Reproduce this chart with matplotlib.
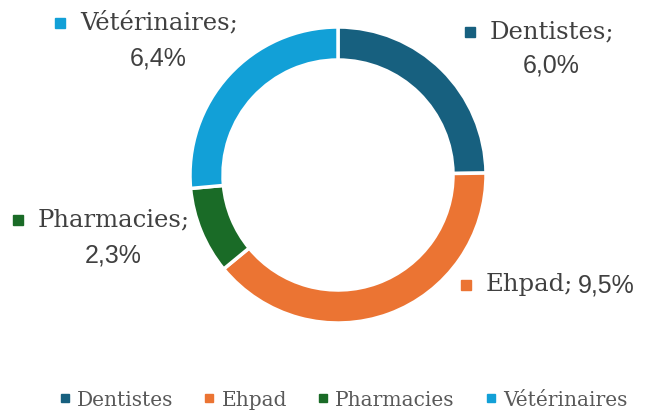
import matplotlib
matplotlib.use("Agg")
import matplotlib.pyplot as plt
from matplotlib.lines import Line2D

categories = ["Dentistes", "Ehpad", "Pharmacies", "Vétérinaires"]
values = [6.0, 9.5, 2.3, 6.4]
value_labels = ["6,0%", "9,5%", "2,3%", "6,4%"]
colors = ["#17607F", "#EB7433", "#1A6B27", "#12A0D7"]

W, H = 647, 412
SERIF = "DejaVu Serif"
SANS = "Liberation Sans"
TEXT_COLOR = "#404040"

fig = plt.figure(figsize=(W / 100, H / 100), dpi=100)
ax = fig.add_axes([0, 0, 1, 1])

# donut, starting at 12 o'clock, clockwise
ax.pie(values, colors=colors, startangle=90, counterclock=False,
       center=(338, H - 175), radius=148,
       wedgeprops=dict(width=33, edgecolor="white", linewidth=2.5))
ax.set_xlim(0, W)
ax.set_ylim(0, H)
ax.set_aspect("equal")
ax.axis("off")

# data label layout: marker x, first line y, second line centre (None = one line)
label_pos = {
    "Dentistes": (470, 32, (551, 65)),
    "Ehpad": (466, 285, None),
    "Pharmacies": (18, 220, (113, 255)),
    "Vétérinaires": (60, 23, (158, 58)),
}
for cat, vlab, col in zip(categories, value_labels, colors):
    mx, y1, second = label_pos[cat]
    ax.plot(mx, H - y1, marker="s", markersize=7, color=col, linestyle="none")
    t1 = ax.text(mx + 20, H - y1, f"{cat};", ha="left", va="center",
                 fontsize=17.5, family=SERIF, color=TEXT_COLOR)
    if second is None:
        ax.annotate(vlab, xy=(1, 0.5), xycoords=t1, xytext=(3, 0),
                    textcoords="offset points", ha="left", va="center",
                    fontsize=18, family=SANS, color=TEXT_COLOR)
    else:
        ax.text(second[0], H - second[1], vlab, ha="center", va="center",
                fontsize=18, family=SANS, color=TEXT_COLOR)

handles = [Line2D([0], [0], marker="s", linestyle="none", markersize=6,
                  markerfacecolor=c, markeredgecolor=c) for c in colors]
leg = fig.legend(handles, categories, loc="center", bbox_to_anchor=(343 / W, 1 - 400 / H),
                 ncol=4, frameon=False, handlelength=0.6, handletextpad=0.3,
                 columnspacing=1.5, borderpad=0, prop={"family": SERIF, "size": 14.5})
for t in leg.get_texts():
    t.set_color("#595959")

fig.savefig("out.png", dpi=100)
